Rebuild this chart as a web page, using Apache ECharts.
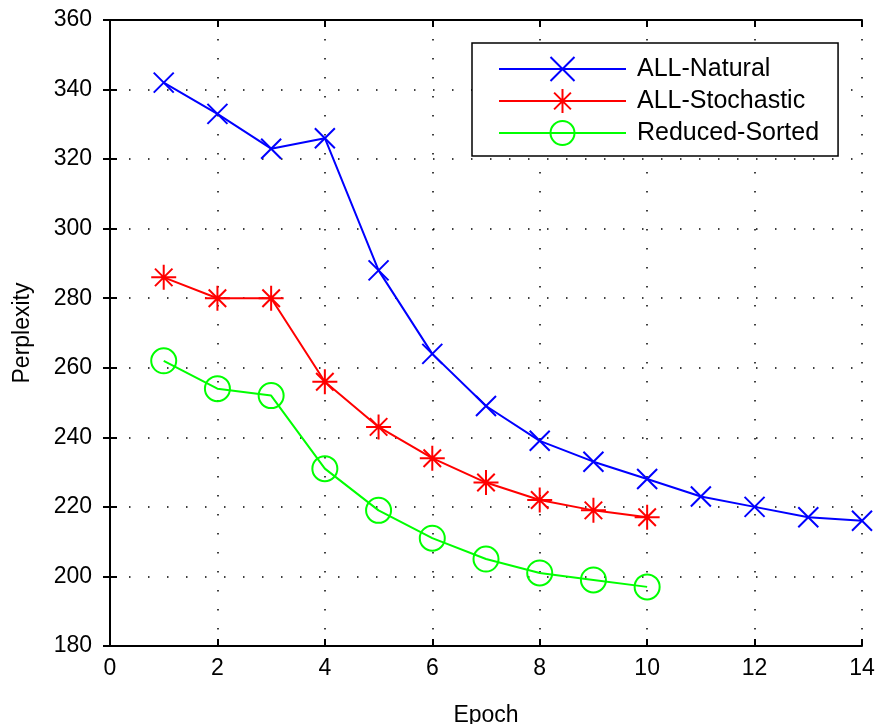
<!DOCTYPE html>
<html>
<head>
<meta charset="utf-8">
<script src="https://cdn.jsdelivr.net/npm/echarts@6/dist/echarts.min.js"></script>
<style>
  html, body { margin: 0; padding: 0; background: #fff; }
  #chart { width: 879px; height: 724px; }
</style>
</head>
<body>
<div id="chart"></div>
<script>
// perplexity per epoch
const epochs = [1, 2, 3, 4, 5, 6, 7, 8, 9, 10, 11, 12, 13, 14];
const allNatural = [342, 333, 323, 326, 288, 264, 249, 239, 233, 228, 223, 220, 217, 216];
const allStochastic = [286, 280, 280, 256, 243, 234, 227, 222, 219, 217];
const reducedSorted = [262, 254, 252, 231, 219, 211, 205, 201, 199, 197];

const FONT = '"Liberation Sans", Arial, Helvetica, sans-serif';

const crossPath = 'path://M0,0L10,10M10,0L0,10';
const starPath = 'path://M5,0L5,10M0,5L10,5M1.5,1.5L8.5,8.5M8.5,1.5L1.5,8.5';

function pairs(vals) {
    return vals.map((v, i) => [epochs[i], v]);
}

const gridLine = {
    show: true,
    lineStyle: { color: '#000', width: 1.5, type: [1.5, 17.5] }
};

const chart = echarts.init(document.getElementById('chart'));
chart.setOption({
    animation: false,
    backgroundColor: '#fff',
    grid: { left: 110, right: 17, top: 20, bottom: 78, outerBoundsMode: 'none' },
    legend: {
        orient: 'vertical',
        left: 472,
        top: 43,
        backgroundColor: '#fff',
        borderColor: '#000',
        borderWidth: 1.5,
        borderRadius: 0,
        padding: [13, 19, 10, 26],
        itemWidth: 127,
        itemHeight: 30,
        itemGap: 6,
        textStyle: { fontFamily: FONT, fontSize: 25, color: '#000', padding: [0, 0, 0, 6] },
        data: ['ALL-Natural', 'ALL-Stochastic', 'Reduced-Sorted']
    },
    xAxis: [{
        type: 'value',
        min: 0, max: 14, interval: 2,
        name: 'Epoch',
        nameLocation: 'middle',
        nameGap: 58,
        nameTextStyle: { fontFamily: FONT, fontSize: 23, color: '#000' },
        axisLine: { show: true, lineStyle: { color: '#000', width: 2 } },
        axisTick: { show: true, inside: true, length: 7, lineStyle: { color: '#000', width: 2 } },
        axisLabel: { fontFamily: FONT, fontSize: 23, color: '#000', margin: 11 },
        splitLine: gridLine
    }, {
        type: 'value',
        position: 'top',
        min: 0, max: 14, interval: 2,
        axisLine: { show: true, lineStyle: { color: '#000', width: 2 } },
        axisTick: { show: true, inside: true, length: 7, lineStyle: { color: '#000', width: 2 } },
        axisLabel: { show: false },
        splitLine: { show: false }
    }],
    yAxis: [{
        type: 'value',
        min: 180, max: 360, interval: 20,
        name: 'Perplexity',
        nameLocation: 'middle',
        nameGap: 76,
        nameTextStyle: { fontFamily: FONT, fontSize: 23, color: '#000' },
        axisLine: { show: true, lineStyle: { color: '#000', width: 2 } },
        axisTick: { show: true, inside: true, length: 7, lineStyle: { color: '#000', width: 2 } },
        axisLabel: { fontFamily: FONT, fontSize: 23, color: '#000', margin: 18 },
        splitLine: gridLine
    }, {
        type: 'value',
        position: 'right',
        min: 180, max: 360, interval: 20,
        axisLine: { show: true, lineStyle: { color: '#000', width: 2 } },
        axisTick: { show: true, inside: true, length: 7, lineStyle: { color: '#000', width: 2 } },
        axisLabel: { show: false },
        splitLine: { show: false }
    }],
    series: [
        {
            name: 'ALL-Natural',
            type: 'line',
            color: '#0000ff',
            data: pairs(allNatural),
            symbol: crossPath,
            symbolSize: 20,
            showAllSymbol: true,
            lineStyle: { color: '#0000ff', width: 2 },
            itemStyle: { color: '#0000ff', borderColor: '#0000ff', borderWidth: 2 }
        },
        {
            name: 'ALL-Stochastic',
            type: 'line',
            color: '#ff0000',
            data: pairs(allStochastic),
            symbol: starPath,
            symbolSize: 25,
            showAllSymbol: true,
            lineStyle: { color: '#ff0000', width: 2 },
            itemStyle: { color: '#ff0000', borderColor: '#ff0000', borderWidth: 2 }
        },
        {
            name: 'Reduced-Sorted',
            type: 'line',
            color: '#00ff00',
            data: pairs(reducedSorted),
            symbol: 'circle',
            symbolSize: 25,
            showAllSymbol: true,
            lineStyle: { color: '#00ff00', width: 2 },
            itemStyle: { color: 'rgba(0,0,0,0)', borderColor: '#00ff00', borderWidth: 2 }
        }
    ]
});
</script>
</body>
</html>
